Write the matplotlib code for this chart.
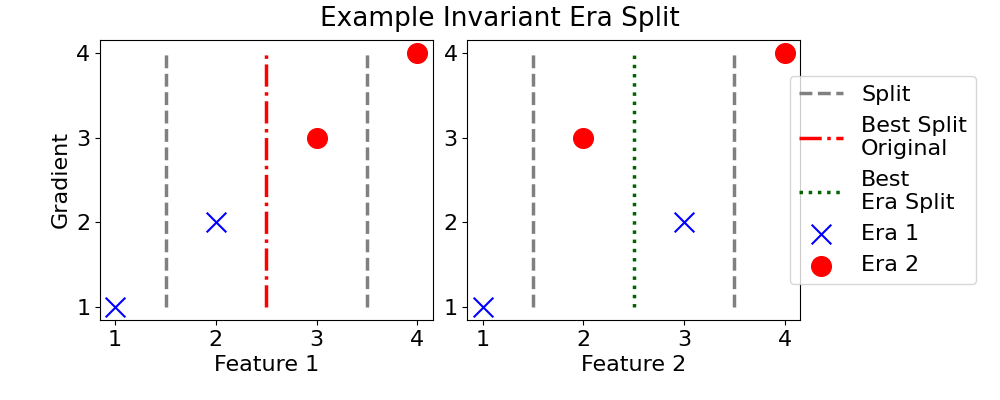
import matplotlib
matplotlib.use("Agg")
import matplotlib.pyplot as plt

# split positions and points for each feature
splits = [1.5, 3.5]
best_split = 2.5
gradient_lo, gradient_hi = 1, 4

f1_era1_x = [1, 2]
f1_era1_y = [1, 2]
f1_era2_x = [3, 4]
f1_era2_y = [3, 4]

f2_era1_x = [1, 3]
f2_era1_y = [1, 2]
f2_era2_x = [2, 4]
f2_era2_y = [3, 4]

plt.rcParams["font.size"] = 16

fig, (ax1, ax2) = plt.subplots(1, 2, figsize=(10, 4), dpi=100)
fig.subplots_adjust(left=0.1, right=0.8, bottom=0.2, top=0.9, wspace=0.105)

# left panel: original best split
ax1.vlines(splits, gradient_lo, gradient_hi, colors="grey", linestyles="--", linewidth=2.5, label="Split")
ax1.vlines(best_split, gradient_lo, gradient_hi, colors="red", linestyles="-.", linewidth=2.5,
           label="Best Split\nOriginal")
ax1.scatter(f1_era1_x, f1_era1_y, marker="x", s=200, color="blue", linewidths=1.5, zorder=3)
ax1.scatter(f1_era2_x, f1_era2_y, marker="o", s=200, color="red", zorder=3)
ax1.set_xlabel("Feature 1")
ax1.set_ylabel("Gradient")

# right panel: era-invariant split
ax2.vlines(splits, gradient_lo, gradient_hi, colors="grey", linestyles="--", linewidth=2.5, label="Split")
ax2.plot([], [], color="red", linestyle="-.", linewidth=2.5, label="Best Split\nOriginal")
ax2.vlines(best_split, gradient_lo, gradient_hi, colors="darkgreen", linestyles=":", linewidth=2.5,
           label="Best\nEra Split")
ax2.scatter(f2_era1_x, f2_era1_y, marker="x", s=200, color="blue", linewidths=1.5, zorder=3, label="Era 1")
ax2.scatter(f2_era2_x, f2_era2_y, marker="o", s=200, color="red", zorder=3, label="Era 2")
ax2.set_xlabel("Feature 2")

for ax in (ax1, ax2):
    ax.set_xticks([1, 2, 3, 4])
    ax.set_yticks([1, 2, 3, 4])

ax2.legend(loc="center left", bbox_to_anchor=(0.97, 0.5), borderaxespad=0)
fig.suptitle("Example Invariant Era Split", fontsize=19, y=0.985)

plt.savefig("out.png")
plt.close()
